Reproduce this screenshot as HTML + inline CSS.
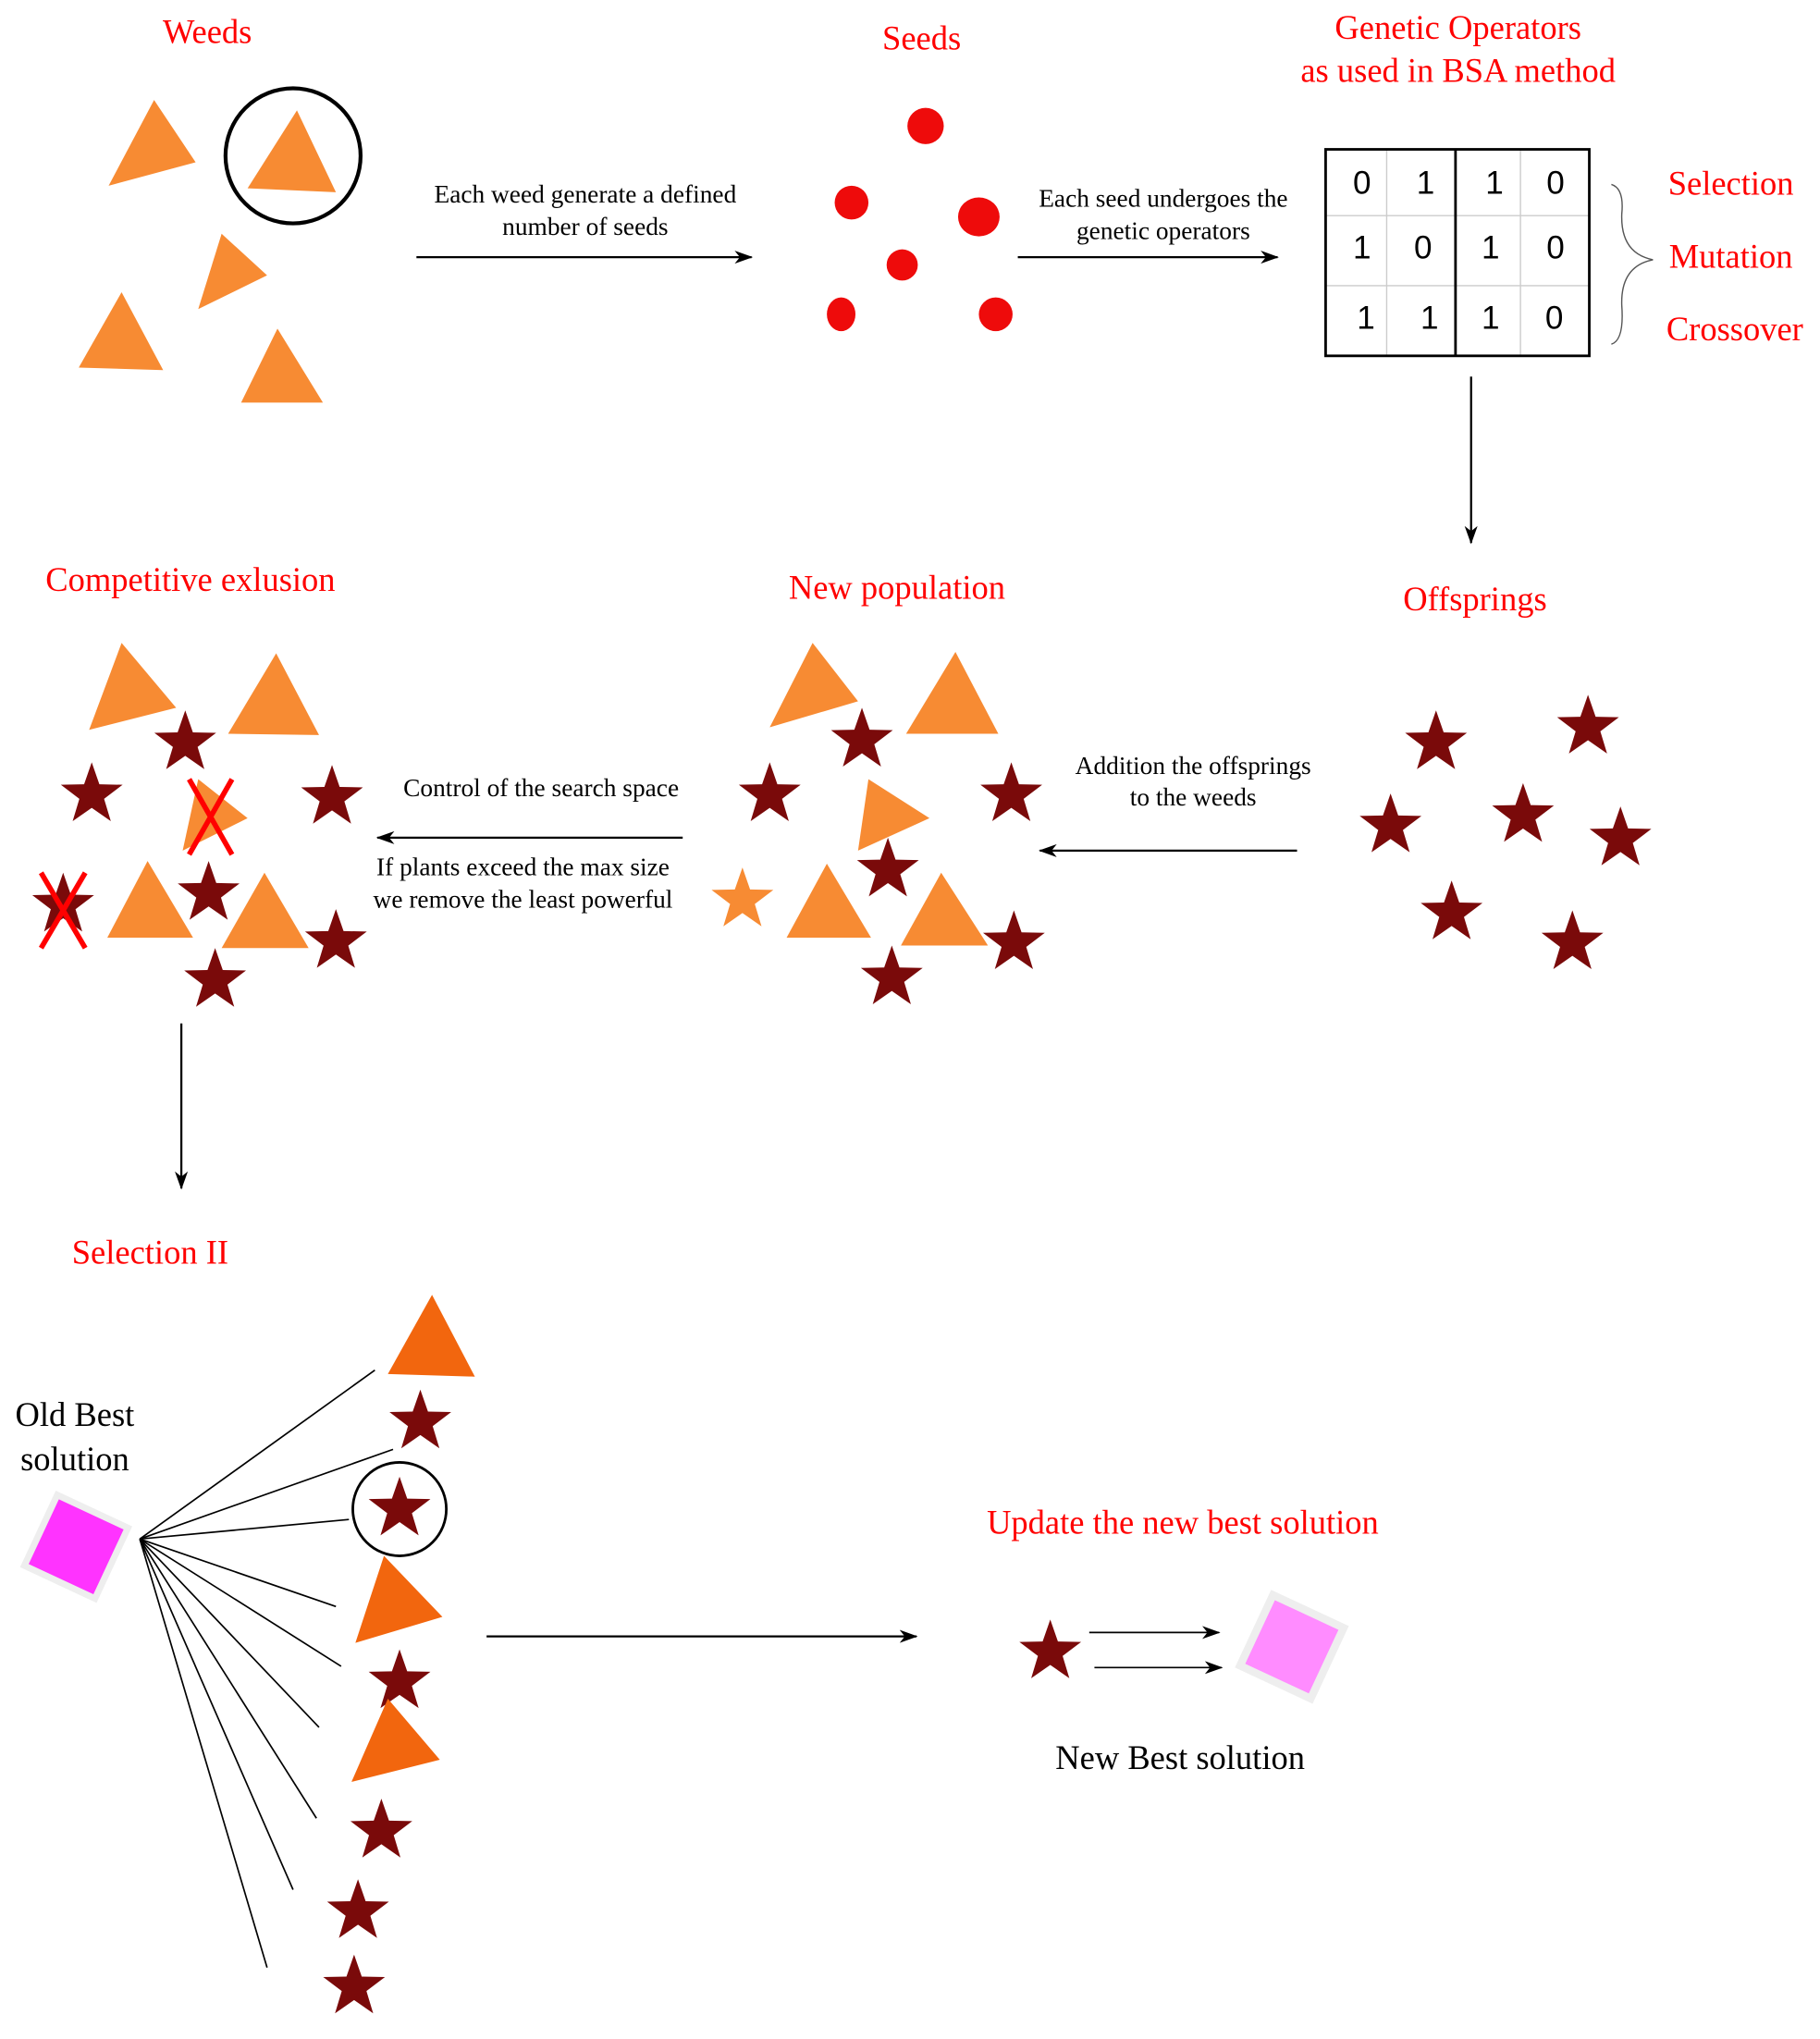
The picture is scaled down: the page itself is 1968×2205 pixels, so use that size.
<!DOCTYPE html>
<html><head><meta charset="utf-8"><style>
html,body{margin:0;padding:0;background:#fff;}
svg{display:block;}
.r{fill:#ff0000;font-family:"Liberation Serif",serif;font-size:26px;text-anchor:middle;}
.k{fill:#000;font-family:"Liberation Serif",serif;font-size:26px;text-anchor:middle;}
.s{fill:#000;font-family:"Liberation Serif",serif;font-size:19.5px;text-anchor:middle;}
.d{fill:#000;font-family:"Liberation Sans","DejaVu Sans",sans-serif;font-size:25px;text-anchor:middle;}
.o{fill:#F78B33;}
.ln{stroke:#000;stroke-width:1.6;fill:none;}
</style></head><body>
<svg width="1968" height="2205" viewBox="0 0 1400 1570" xmlns="http://www.w3.org/2000/svg">
<defs>
<polygon id="st" fill="#7A0A0A" points="0,-25 5.88,-8.09 23.78,-7.73 9.51,3.09 14.69,20.23 0,10 -14.69,20.23 -9.51,3.09 -23.78,-7.73 -5.88,-8.09"/>
<marker id="ah" markerWidth="14" markerHeight="10" refX="13" refY="5" orient="auto" markerUnits="userSpaceOnUse"><path d="M0,0 L14,5 L0,10 L4,5 Z" fill="#000"/></marker>
</defs>
<rect width="1400" height="1570" fill="#fff"/>

<text class="r" x="159" y="33">Weeds</text>
<polygon class="o" points="83,143 118,77 150,125"/>
<circle cx="225" cy="120" r="52" fill="none" stroke="#000" stroke-width="3"/>
<polygon class="o" points="190,145 228,85 258,148"/>
<polygon class="o" points="152,238 170,180 205,212"/>
<polygon class="o" points="60,283 93,225 125,285"/>
<polygon class="o" points="185,310 213,253 248,310"/>

<line class="ln" x1="320" y1="198" x2="578" y2="198" marker-end="url(#ah)"/>
<text class="s" x="450" y="156">Each weed generate a defined</text>
<text class="s" x="450" y="181">number of seeds</text>

<text class="r" x="709" y="38">Seeds</text>
<g fill="#ee0b0b">
<circle cx="712" cy="97" r="14"/>
<circle cx="655" cy="156" r="13"/>
<ellipse cx="753" cy="167" rx="16" ry="15"/>
<circle cx="694" cy="204" r="12"/>
<ellipse cx="647" cy="242" rx="11" ry="13"/>
<circle cx="766" cy="242" r="13"/>
</g>

<line class="ln" x1="783" y1="198" x2="983" y2="198" marker-end="url(#ah)"/>
<text class="s" x="895" y="159">Each seed undergoes the</text>
<text class="s" x="895" y="184">genetic operators</text>

<text class="r" x="1122" y="30">Genetic Operators</text>
<text class="r" x="1122" y="63">as used in BSA method</text>
<g stroke="#ccc" stroke-width="1">
<line x1="1067" y1="115" x2="1067" y2="274"/>
<line x1="1170" y1="115" x2="1170" y2="274"/>
<line x1="1020" y1="166" x2="1223" y2="166"/>
<line x1="1020" y1="220" x2="1223" y2="220"/>
</g>
<rect x="1020" y="115" width="203" height="159" fill="none" stroke="#000" stroke-width="2"/>
<line x1="1120" y1="115" x2="1120" y2="274" stroke="#000" stroke-width="2"/>
<text class="d" x="1048" y="149">0</text><text class="d" x="1097" y="149">1</text><text class="d" x="1150" y="149">1</text><text class="d" x="1197" y="149">0</text>
<text class="d" x="1048" y="199">1</text><text class="d" x="1095" y="199">0</text><text class="d" x="1147" y="199">1</text><text class="d" x="1197" y="199">0</text>
<text class="d" x="1051" y="253">1</text><text class="d" x="1100" y="253">1</text><text class="d" x="1147" y="253">1</text><text class="d" x="1196" y="253">0</text>
<path d="M1240,142 Q1250,145 1248,165 Q1247,195 1272,200 Q1247,205 1248,235 Q1250,262 1240,265" fill="none" stroke="#555" stroke-width="1"/>
<text class="r" x="1332" y="150">Selection</text>
<text class="r" x="1332" y="206">Mutation</text>
<text class="r" x="1335" y="262">Crossover</text>

<line class="ln" x1="1132" y1="290" x2="1132" y2="418" marker-end="url(#ah)"/>

<text class="r" x="1135" y="470">Offsprings</text>
<use href="#st" x="1105" y="572"/>
<use href="#st" x="1222" y="560"/>
<use href="#st" x="1070" y="636"/>
<use href="#st" x="1172" y="628"/>
<use href="#st" x="1247" y="646"/>
<use href="#st" x="1117" y="703"/>
<use href="#st" x="1210" y="726"/>

<line class="ln" x1="998" y1="655" x2="800" y2="655" marker-end="url(#ah)"/>
<text class="s" x="918" y="596">Addition the offsprings</text>
<text class="s" x="918" y="620">to the weeds</text>

<text class="r" x="690" y="461">New population</text>
<polygon class="o" points="592,560 625,495 660,540"/>
<polygon class="o" points="697,565 735,502 768,565"/>
<polygon class="o" points="660,655 668,600 715,630"/>
<polygon class="o" points="605,722 636,665 670,722"/>
<polygon class="o" points="693,728 724,672 760,728"/>
<use href="#st" x="663" y="570"/>
<use href="#st" x="592" y="612"/>
<use href="#st" x="778" y="612"/>
<use href="#st" x="683" y="670"/>
<use href="#st" x="780" y="726"/>
<use href="#st" x="686" y="753"/>
<polygon fill="#F78B33" transform="translate(571,693)" points="0,-25 5.88,-8.09 23.78,-7.73 9.51,3.09 14.69,20.23 0,10 -14.69,20.23 -9.51,3.09 -23.78,-7.73 -5.88,-8.09"/>

<line class="ln" x1="525" y1="645" x2="290" y2="645" marker-end="url(#ah)"/>
<text class="s" x="416" y="613">Control of the search space</text>
<text class="s" x="402" y="674">If plants exceed the max size</text>
<text class="s" x="402" y="699">we remove the least powerful</text>

<text class="r" x="146" y="455">Competitive exlusion</text>
<polygon class="o" points="68,562 93,495 135,545"/>
<polygon class="o" points="175,565 212,503 245,566"/>
<polygon class="o" points="140,655 152,600 190,630"/>
<polygon class="o" points="82,722 113,663 148,722"/>
<polygon class="o" points="170,730 203,672 237,730"/>
<use href="#st" x="142" y="572"/>
<use href="#st" x="70" y="612"/>
<use href="#st" x="255" y="614"/>
<use href="#st" x="160" y="688"/>
<use href="#st" x="48" y="697"/>
<use href="#st" x="258" y="725"/>
<use href="#st" x="165" y="755"/>
<g stroke="#ff0000" stroke-width="4">
<line x1="145" y1="600" x2="178" y2="658"/><line x1="178" y1="600" x2="145" y2="658"/>
<line x1="31" y1="672" x2="65" y2="730"/><line x1="65" y1="672" x2="31" y2="730"/>
</g>

<line class="ln" x1="139" y1="788" x2="139" y2="915" marker-end="url(#ah)"/>

<text class="r" x="115" y="973">Selection II</text>
<text class="k" x="57" y="1098">Old Best</text>
<text class="k" x="57" y="1132">solution</text>
<rect x="28" y="1161" width="60" height="60" fill="#FF33FF" stroke="#eee" stroke-width="5" transform="rotate(25 58 1191)"/>
<g stroke="#000" stroke-width="1.2">
<line x1="107" y1="1185" x2="288" y2="1055"/>
<line x1="107" y1="1185" x2="302" y2="1116"/>
<line x1="107" y1="1185" x2="268" y2="1170"/>
<line x1="107" y1="1185" x2="258" y2="1237"/>
<line x1="107" y1="1185" x2="262" y2="1283"/>
<line x1="107" y1="1185" x2="245" y2="1330"/>
<line x1="107" y1="1185" x2="243" y2="1400"/>
<line x1="107" y1="1185" x2="225" y2="1455"/>
<line x1="107" y1="1185" x2="205" y2="1515"/>
</g>
<polygon fill="#F2660E" points="298,1058 332,997 365,1060"/>
<use href="#st" x="323" y="1095"/>
<circle cx="307" cy="1162" r="36" fill="none" stroke="#000" stroke-width="2"/>
<use href="#st" x="307" y="1162"/>
<polygon fill="#F2660E" points="273,1265 295,1198 340,1245"/>
<use href="#st" x="307" y="1295"/>
<polygon fill="#F2660E" points="270,1372 298,1308 338,1355"/>
<use href="#st" x="293" y="1410"/>
<use href="#st" x="275" y="1472"/>
<use href="#st" x="272" y="1530"/>

<line class="ln" x1="374" y1="1260" x2="705" y2="1260" marker-end="url(#ah)"/>

<text class="r" x="910" y="1181">Update the new best solution</text>
<use href="#st" x="808" y="1272"/>
<line stroke="#000" stroke-width="1.2" x1="838" y1="1257" x2="938" y2="1257" marker-end="url(#ah)"/>
<line stroke="#000" stroke-width="1.2" x1="842" y1="1284" x2="940" y2="1284" marker-end="url(#ah)"/>
<rect x="964" y="1238" width="60" height="60" fill="#FF8CFF" stroke="#eee" stroke-width="6" transform="rotate(25 994 1268)"/>
<text class="k" x="908" y="1362">New Best solution</text>
</svg>
</body></html>
